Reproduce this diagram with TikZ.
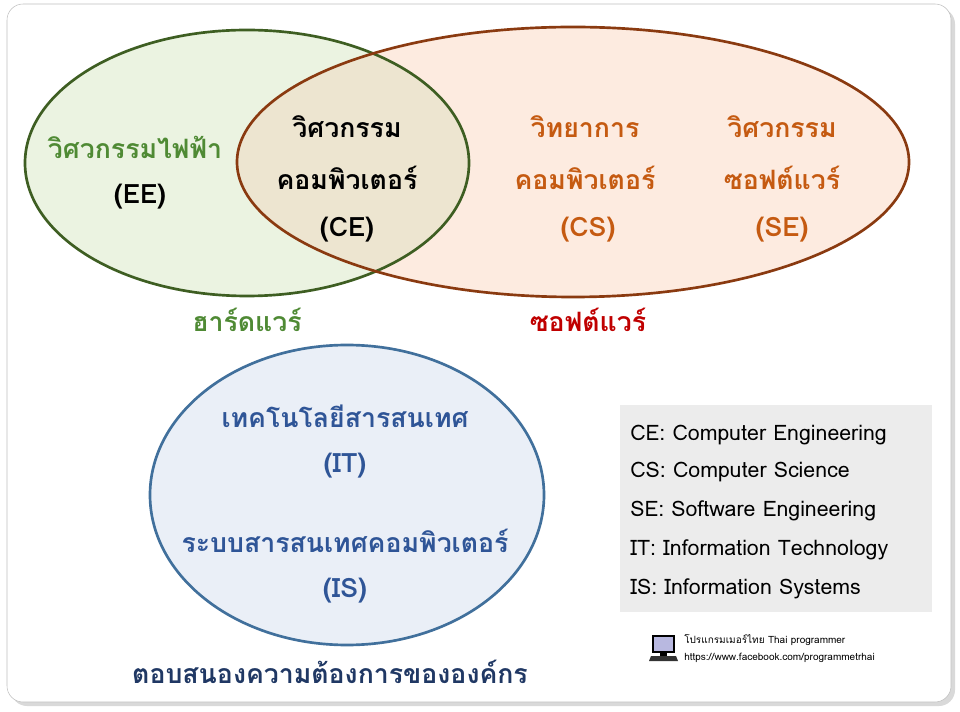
\documentclass[tikz,border=0pt]{standalone}
\usepackage{fontspec}
\newfontfamily\thai[Script=Thai]{Loma}
\setmainfont{Loma}
\definecolor{gstroke}{HTML}{3E5E22}
\definecolor{gfill}{HTML}{EBF3E1}
\definecolor{ostroke}{HTML}{8A3A10}
\definecolor{ofill}{HTML}{FDEBE0}
\definecolor{ifill}{HTML}{EDE5D0}
\definecolor{bstroke}{HTML}{41709C}
\definecolor{bfill}{HTML}{EAEFF7}
\definecolor{gtext}{HTML}{4F8A34}
\definecolor{otext}{HTML}{C55A11}
\definecolor{rtext}{HTML}{C00000}
\definecolor{btext}{HTML}{2F5597}
\definecolor{dbtext}{HTML}{203864}
\begin{document}
\begin{tikzpicture}[x=0.75pt,y=-0.75pt,
  big/.style={font=\thai\bfseries\fontsize{20}{39}\selectfont,align=center},
  leg/.style={font=\thai\fontsize{16}{20}\selectfont,anchor=west,inner sep=0}]
\useasboundingbox (0,0) rectangle (960,712);
\fill[gray!30,rounded corners=12pt] (11,8) rectangle (955,706);
\draw[gray!50,fill=white,rounded corners=12pt] (7,4) rectangle (951,702);
\fill[gfill] (247,163) ellipse [x radius=222,y radius=133];
\fill[ofill] (573,162) ellipse [x radius=336,y radius=135];
\begin{scope}
\clip (247,163) ellipse [x radius=222,y radius=133];
\fill[ifill] (573,162) ellipse [x radius=336,y radius=135];
\end{scope}
\draw[gstroke,line width=2pt] (247,163) ellipse [x radius=222,y radius=133];
\draw[ostroke,line width=2pt] (573,162) ellipse [x radius=336,y radius=135];
\draw[bstroke,line width=2pt,fill=bfill] (347,495) ellipse [x radius=197,y radius=150];
\node[big,text=gtext] (ee) at (135,147) {วิศวกรรมไฟฟ้า};
\node[big] (ee2) at (140,197) {(EE)};
\node[big] (ce) at (347,153) {วิศวกรรม\\คอมพิวเตอร์};
\node[big] (ce2) at (347,230) {(CE)};
\node[big,text=otext] (cs) at (585,153) {วิทยาการ\\คอมพิวเตอร์};
\node[big,text=otext] (cs2) at (588,230) {(CS)};
\node[big,text=otext] (se) at (782,153) {วิศวกรรม\\ซอฟต์แวร์};
\node[big,text=otext] (se2) at (782,230) {(SE)};
\node[big,text=gtext] (hw) at (247,320) {ฮาร์ดแวร์};
\node[big,text=rtext] (sw) at (588,320) {ซอฟต์แวร์};
\node[big,text=btext] (it) at (345,416) {เทคโนโลยีสารสนเทศ};
\node[big,text=btext] (it2) at (345,466) {(IT)};
\node[big,text=btext] (is) at (345,541) {ระบบสารสนเทศคอมพิวเตอร์};
\node[big,text=btext] (is2) at (345,591) {(IS)};
\node[big,text=dbtext] (req) at (330,672) {ตอบสนองความต้องการขององค์กร};
\fill[gray!15] (620,405) rectangle (932,612);
\node[leg] (l1) at (630,435) {CE: Computer Engineering};
\node[leg] (l2) at (630,472) {CS: Computer Science};
\node[leg] (l3) at (630,511) {SE: Software Engineering};
\node[leg] (l4) at (630,550) {IT: Information Technology};
\node[leg] (l5) at (630,589) {IS: Information Systems};
\draw[black,fill=gray!60!blue!40,line width=1pt] (653,636) rectangle (674,652);
\fill[black] (660,652) rectangle (667,656);
\fill[black!80] (651,656) -- (676,656) -- (678,661) -- (649,661) -- cycle;
\node[font=\thai\fontsize{7.5}{9}\selectfont,anchor=west,inner sep=0] (lg1) at (684,640) {โปรแกรมเมอร์ไทย Thai programmer};
\node[font=\thai\fontsize{7.5}{9}\selectfont,anchor=west,inner sep=0] (lg2) at (684,658) {https://www.facebook.com/programmetrhai};
\end{tikzpicture}
\end{document}
